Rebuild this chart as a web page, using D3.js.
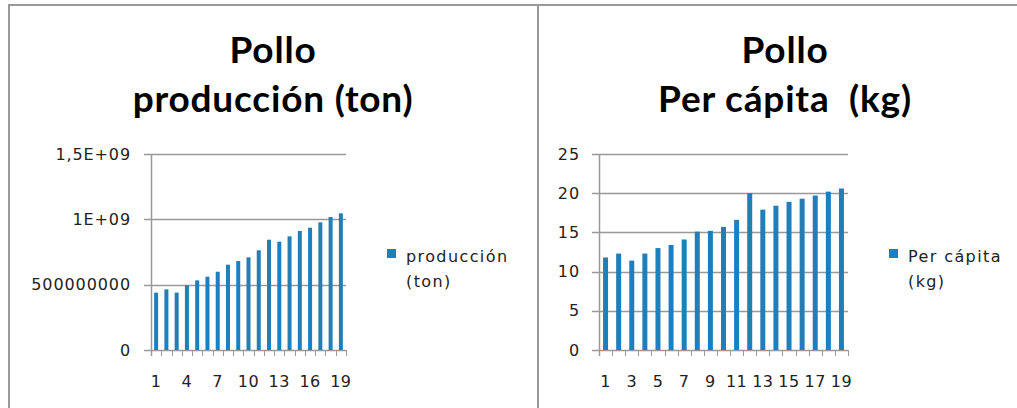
<!DOCTYPE html>
<html>
<head>
<meta charset="utf-8">
<script src="https://cdn.jsdelivr.net/npm/d3@7"></script>
<style>
  body { margin: 0; background: #fff; }
  text { font-family: "DejaVu Sans", sans-serif; }
  .title { font-family: Lato, "Open Sans", sans-serif; font-weight: bold; fill: #000; }
  .tick text { font-size: 16px; fill: #222; letter-spacing: 0.9px; }
  .xlab { font-size: 16px; fill: #222; letter-spacing: 0.5px; }
  .legend { font-size: 16px; fill: #222; letter-spacing: 1.4px; }
</style>
</head>
<body>
<div id="chart"></div>
<script>
// categories (years 1..19)
var categories = d3.range(1, 20);

// chart 1: producción (ton)
var produccion = [4.39e8, 4.64e8, 4.39e8, 4.95e8, 5.33e8, 5.61e8, 5.99e8, 6.53e8, 6.81e8, 7.09e8,
                  7.63e8, 8.44e8, 8.29e8, 8.70e8, 9.11e8, 9.36e8, 9.77e8, 1.018e9, 1.046e9];
var produccionTicks = [0, 5e8, 1e9, 1.5e9];
var produccionTickLabels = ["0", "500000000", "1E+09", "1,5E+09"];
var produccionXLabels = [1, 4, 7, 10, 13, 16, 19];

// chart 2: per cápita (kg)
var perCapita = [11.8, 12.3, 11.4, 12.3, 13.0, 13.4, 14.1, 15.1, 15.2, 15.7,
                 16.6, 20.0, 17.9, 18.4, 18.9, 19.3, 19.7, 20.2, 20.6];
var perCapitaTicks = [0, 5, 10, 15, 20, 25];
var perCapitaXLabels = [1, 3, 5, 7, 9, 11, 13, 15, 17, 19];

var W = 1017, H = 408;
var svg = d3.select("#chart").append("svg")
    .attr("width", W).attr("height", H);

// panel borders
svg.append("path")
    .attr("d", "M9,408 V5 H538 M538,408 V5 H1017")
    .attr("fill", "none")
    .attr("stroke", "#999")
    .attr("stroke-width", 2);

var barColor = "#1f7fba";
var gridColor = "#999";

function drawChart(opt) {
    var g = svg.append("g");

    // title
    var t = g.append("text")
        .attr("class", "title")
        .attr("text-anchor", "middle")
        .style("font-size", "37px")
        .style("letter-spacing", "0.8px");
    opt.title.forEach(function(line, i) {
        t.append("tspan")
            .attr("x", opt.titleX)
            .attr("y", 63 + i * 49)
            .style("white-space", "pre")
            .text(line);
    });

    var x = d3.scaleBand()
        .domain(categories)
        .range([opt.left, opt.right])
        .paddingInner(0).paddingOuter(0);

    var y = d3.scaleLinear()
        .domain([0, opt.ticks[opt.ticks.length - 1]])
        .range([opt.bottom, opt.top]);

    // gridlines
    g.selectAll(".grid")
        .data(opt.ticks)
        .enter().append("line")
        .attr("x1", opt.left - 7)
        .attr("x2", opt.right)
        .attr("y1", function(d) { return Math.round(y(d)) + 0.5; })
        .attr("y2", function(d) { return Math.round(y(d)) + 0.5; })
        .attr("stroke", gridColor)
        .attr("stroke-width", 1.5);

    // y axis labels
    var yAxis = g.append("g")
        .attr("transform", "translate(" + (opt.left - 7) + ",0)")
        .call(d3.axisLeft(y).tickValues(opt.ticks).tickSize(0).tickPadding(opt.labelPad)
            .tickFormat(function(d, i) { return opt.tickLabels[i]; }));
    yAxis.select(".domain").remove();

    g.append("line")
        .attr("x1", opt.left + 0.5).attr("x2", opt.left + 0.5)
        .attr("y1", opt.top).attr("y2", opt.bottom + 6)
        .attr("stroke", gridColor).attr("stroke-width", 1.5);

    // x ticks at category boundaries
    var bounds = categories.map(function(c) { return x(c); }).concat([opt.right]);
    g.selectAll(".xt")
        .data(bounds)
        .enter().append("line")
        .attr("x1", function(d) { return Math.round(d) + 0.5; })
        .attr("x2", function(d) { return Math.round(d) + 0.5; })
        .attr("y1", opt.bottom)
        .attr("y2", opt.bottom + 6)
        .attr("stroke", gridColor)
        .attr("stroke-width", 1);

    // x labels
    g.selectAll(".xl")
        .data(opt.xLabels)
        .enter().append("text")
        .attr("class", "xlab")
        .attr("x", function(d) { return x(d) + x.bandwidth() / 2; })
        .attr("y", opt.bottom + 37)
        .attr("text-anchor", "middle")
        .text(function(d) { return d; });

    // bars
    g.selectAll(".bar")
        .data(opt.values)
        .enter().append("rect")
        .attr("x", function(d, i) { return x(categories[i]) + (x.bandwidth() - opt.barW) / 2; })
        .attr("width", opt.barW)
        .attr("y", function(d) { return y(d); })
        .attr("height", function(d) { return opt.bottom - y(d); })
        .attr("fill", barColor);

    // legend
    g.append("rect")
        .attr("x", opt.legendX).attr("y", 249)
        .attr("width", 9).attr("height", 9)
        .attr("fill", barColor);
    var lt = g.append("text").attr("class", "legend");
    opt.legend.forEach(function(line, i) {
        lt.append("tspan")
            .attr("x", opt.legendX + 19)
            .attr("y", 262 + i * 25)
            .text(line);
    });
}

drawChart({
    title: ["Pollo", "producción (ton)"],
    titleX: 273,
    left: 151, right: 346, top: 154, bottom: 350,
    ticks: produccionTicks,
    tickLabels: produccionTickLabels,
    xLabels: produccionXLabels,
    values: produccion,
    barW: 4,
    labelPad: 13,
    legendX: 387,
    legend: ["producción", "(ton)"]
});

drawChart({
    title: ["Pollo", "Per cápita  (kg)"],
    titleX: 785,
    left: 599, right: 848, top: 154, bottom: 350,
    ticks: perCapitaTicks,
    tickLabels: perCapitaTicks.map(String),
    xLabels: perCapitaXLabels,
    values: perCapita,
    barW: 5,
    labelPad: 12,
    legendX: 889,
    legend: ["Per cápita", "(kg)"]
});
</script>
</body>
</html>
